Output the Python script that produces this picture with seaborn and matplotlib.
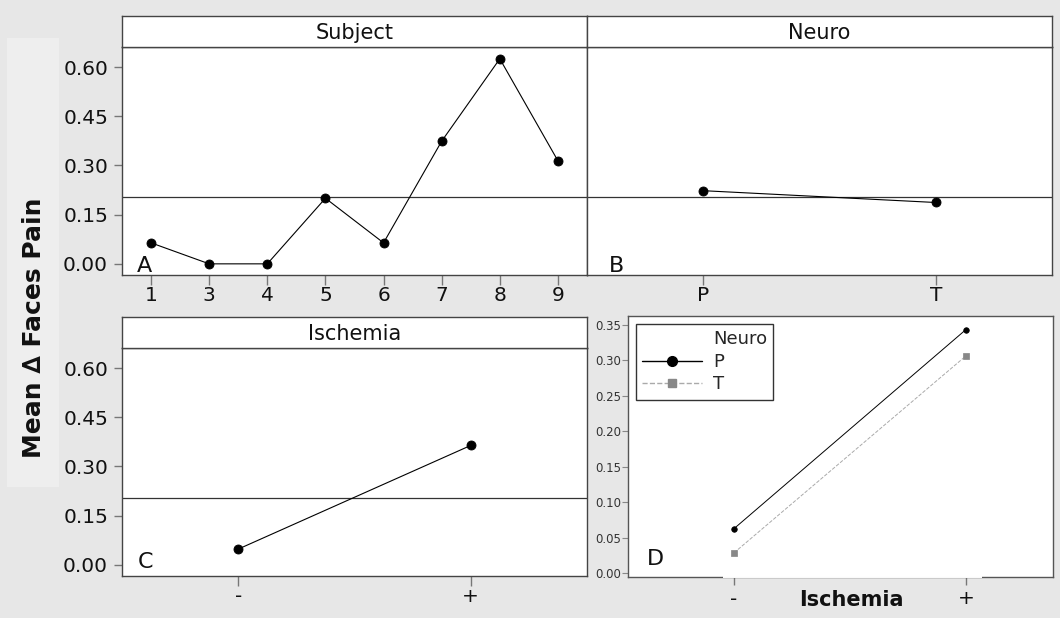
import matplotlib
matplotlib.use("Agg")
import matplotlib.pyplot as plt
from matplotlib.lines import Line2D
from matplotlib.patches import Rectangle
import seaborn as sns
import pandas as pd

# ---------------- data ----------------
subjects = ["1", "3", "4", "5", "6", "7", "8", "9"]
subject_means = [0.064, 0.0, 0.0, 0.200, 0.064, 0.374, 0.625, 0.314]

neuro_levels = ["P", "T"]
neuro_means = [0.223, 0.187]

ischemia_levels = ["-", "+"]
ischemia_means = [0.048, 0.364]

inter_P = [0.063, 0.343]
inter_T = [0.029, 0.306]

grand_mean = 0.205

panel_letters = ["A", "B", "C", "D"]
strip_titles = ["Subject", "Neuro", "Ischemia"]
y_ticks_main = [0.00, 0.15, 0.30, 0.45, 0.60]
y_ticks_D = [0.00, 0.05, 0.10, 0.15, 0.20, 0.25, 0.30, 0.35]

# ---------------- style ----------------
sns.set_theme(style="white")
plt.rcParams["font.family"] = ["DejaVu Sans"]

W, H = 1060, 618
BG = "#E7E7E7"
SPINE = "#444444"

fig = plt.figure(figsize=(W / 100, H / 100), dpi=100, facecolor=BG)

# light box behind y label
fig.patches.append(Rectangle((7 / W, 1 - 487 / H), 52 / W, 449 / H,
                             transform=fig.transFigure, facecolor="#EEEEEE",
                             edgecolor="none", zorder=-1))


def px_axes(x0, y0, x1, y1):
    return fig.add_axes([x0 / W, 1 - y1 / H, (x1 - x0) / W, (y1 - y0) / H])


def style_spines(ax, color=SPINE, lw=1.0):
    for s in ax.spines.values():
        s.set_visible(True)
        s.set_color(color)
        s.set_linewidth(lw)


def strip(x0, y0, x1, y1, title):
    s = px_axes(x0, y0, x1, y1)
    s.set_facecolor("white")
    style_spines(s)
    s.set_xticks([])
    s.set_yticks([])
    s.text(0.5, 0.45, title, ha="center", va="center", fontsize=15,
           transform=s.transAxes, color="#111111")
    return s


axA = px_axes(122, 47, 587, 275)
axB = px_axes(587, 47, 1052, 275)
axC = px_axes(122, 348, 587, 576)
axD = px_axes(628, 316, 1053, 577)
strip(122, 16, 587, 47, strip_titles[0])
strip(587, 16, 1052, 47, strip_titles[1])
strip(122, 317, 587, 348, strip_titles[2])

main_kw = dict(color="black", errorbar=None, markers="o", linestyles="-",
               markersize=6.5, linewidth=0.8)

dfA = pd.DataFrame({"Subject": subjects, "Mean": subject_means})
sns.pointplot(data=dfA, x="Subject", y="Mean", order=subjects, ax=axA, **main_kw)

dfB = pd.DataFrame({"Neuro": neuro_levels, "Mean": neuro_means})
sns.pointplot(data=dfB, x="Neuro", y="Mean", order=neuro_levels, ax=axB, **main_kw)

dfC = pd.DataFrame({"Ischemia": ischemia_levels, "Mean": ischemia_means})
sns.pointplot(data=dfC, x="Ischemia", y="Mean", order=ischemia_levels, ax=axC, **main_kw)

for ax, n in ((axA, len(subjects)), (axB, 2), (axC, 2)):
    ax.set_facecolor("white")
    style_spines(ax)
    ax.axhline(grand_mean, color="#333333", lw=0.9, zorder=1)
    ax.set_xlim(-0.5, n - 0.5)
    ax.set_ylim(-0.034, 0.661)
    ax.set_xlabel("")
    ax.set_ylabel("")
    ax.tick_params(axis="x", length=7, width=1, color="#777777", pad=1,
                   labelsize=14.5, labelcolor="#111111", bottom=True)
    ax.set_yticks(y_ticks_main)

for ax in (axA, axC):
    ax.set_yticklabels([f"{v:.2f}" for v in y_ticks_main])
    ax.tick_params(axis="y", length=6, width=1, color="#777777", pad=4,
                   labelsize=14.5, labelcolor="#111111", left=True)
axB.tick_params(axis="y", left=False, labelleft=False)

# ---------------- panel D (interaction) ----------------
dfD = pd.DataFrame({
    "Ischemia": ischemia_levels * 2,
    "Mean": inter_P + inter_T,
    "Neuro": ["P"] * len(inter_P) + ["T"] * len(inter_T),
})
sns.pointplot(data=dfD[dfD["Neuro"] == "P"], x="Ischemia", y="Mean",
              order=ischemia_levels, ax=axD, color="black", errorbar=None,
              markers="o", linestyles="-", markersize=4, linewidth=0.7)
sns.pointplot(data=dfD[dfD["Neuro"] == "T"], x="Ischemia", y="Mean",
              order=ischemia_levels, ax=axD, color="#AAAAAA", errorbar=None,
              markers="s", linestyles="--", markersize=4, linewidth=0.7,
              markerfacecolor="#888888", markeredgecolor="#888888")
axD.set_facecolor("white")
style_spines(axD, color="#555555")
axD.set_xlim(-0.457, 1.375)
axD.set_ylim(-0.005, 0.362)
axD.set_yticks(y_ticks_D)
axD.set_yticklabels([f"{v:.2f}" for v in y_ticks_D])
axD.tick_params(axis="y", length=4, width=0.8, color="#888888", pad=1,
                labelsize=8.5, labelcolor="#333333", left=True)
axD.tick_params(axis="x", length=6, width=1, color="#777777", pad=3,
                labelsize=14.5, labelcolor="#111111", bottom=True)
axD.set_ylabel("")
axD.set_xlabel("Ischemia", fontsize=15, fontweight="bold", color="#111111")
axD.xaxis.set_label_coords((851 - 628) / 425, -0.088)
axD.xaxis.label.set_va("center")
# gap in the bottom frame, as in the reference
axD.plot([0.2235, 0.833], [0, 0], transform=axD.transAxes, color="white",
         lw=1.4, clip_on=False, zorder=5, solid_capstyle="butt")

handles = [
    Line2D([], [], linestyle="none", marker=None),
    Line2D([], [], color="black", lw=1, marker="o", markersize=7),
    Line2D([], [], color="#AAAAAA", lw=1, ls="--", marker="s", markersize=6,
           markerfacecolor="#888888", markeredgecolor="#888888"),
]
labels = ["Neuro"] + neuro_levels
leg = axD.legend(handles, labels, loc="upper left",
                 bbox_to_anchor=(0.019, 0.969), borderaxespad=0,
                 fontsize=13, handlelength=3.3, handletextpad=0.6,
                 labelspacing=0.25, borderpad=0.35, fancybox=False,
                 frameon=True, framealpha=1)
leg.get_frame().set_edgecolor("#333333")
leg.get_frame().set_linewidth(1)

# ---------------- panel letters ----------------
axA.text(0.032, 0.013, panel_letters[0], transform=axA.transAxes, fontsize=16,
         va="baseline", color="#111111")
axB.text(0.047, 0.013, panel_letters[1], transform=axB.transAxes, fontsize=16,
         va="baseline", color="#111111")
axC.text(0.034, 0.035, panel_letters[2], transform=axC.transAxes, fontsize=16,
         va="baseline", color="#111111")
axD.text(0.045, 0.046, panel_letters[3], transform=axD.transAxes, fontsize=16,
         va="baseline", color="#111111")

fig.text(34 / W, 1 - 328 / H, "Mean \u2206 Faces Pain", rotation=90,
         fontsize=18, fontweight="bold", ha="center", va="center",
         color="#111111")

fig.savefig("out.png", dpi=100, facecolor=BG)
